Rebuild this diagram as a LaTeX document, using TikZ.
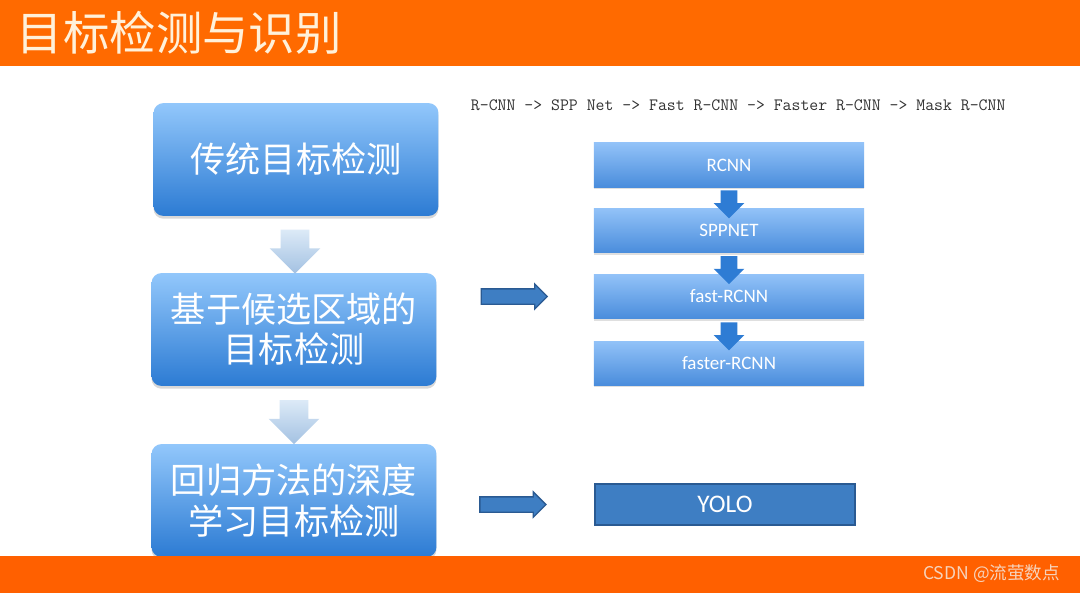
\documentclass[tikz,border=0pt]{standalone}
\usepackage{fontspec}
\newfontfamily\cjk{Noto Sans CJK SC}
\newfontfamily\calib{Carlito}
\usetikzlibrary{shapes.arrows, shadows, calc}

\definecolor{barorange}{HTML}{FF6A00}
\definecolor{barorangeb}{HTML}{FF6000}
\definecolor{titlecream}{HTML}{FFF1DA}
\definecolor{marktext}{HTML}{F6D3BC}
\definecolor{lbtop}{HTML}{92C7FB}
\definecolor{lbbot}{HTML}{2C7BD3}
\definecolor{rbtop}{HTML}{92C2F8}
\definecolor{rbbot}{HTML}{4A8DDC}
\definecolor{yolofill}{HTML}{3E7EC3}
\definecolor{yoloedge}{HTML}{2A5A92}
\definecolor{palearrtop}{HTML}{DCEAF7}
\definecolor{palearrbot}{HTML}{A3C1E2}
\definecolor{darkarr}{HTML}{2E7CD4}

\begin{document}
\begin{tikzpicture}[x=0.025cm, y=-0.025cm,
	leftbox/.style={rounded corners=7pt, top color=lbtop, bottom color=lbbot,
		minimum width=7.12cm, minimum height=2.82cm, text=white, align=center,
		font=\cjk\fontsize{25}{28.5}\selectfont,
		drop shadow={opacity=0.3, shadow xshift=0pt, shadow yshift=-2pt}},
	rightbox/.style={top color=rbtop, bottom color=rbbot, minimum width=6.75cm,
		minimum height=1.1cm, text=white, font=\calib\fontsize{13.5}{16}\selectfont,
		drop shadow={opacity=0.25, shadow xshift=0pt, shadow yshift=-1.5pt}},
	palearrow/.style={single arrow, shape border rotate=270, top color=palearrtop,
		bottom color=palearrbot, minimum height=1.1cm, inner sep=0.35cm,
		single arrow head extend=0.275cm, single arrow head indent=0pt},
	smallarrow/.style={single arrow, shape border rotate=270, fill=darkarr,
		minimum height=0.7cm, inner sep=0.2cm,
		single arrow head extend=0.175cm},
	bluearrow/.style={single arrow, fill=yolofill, draw=yoloedge, line width=0.9pt,
		minimum height=1.65cm, inner sep=0.175cm,
		single arrow head extend=0.125cm}]

	\useasboundingbox (0,0) rectangle (1080,593);
	\fill[white] (0,0) rectangle (1080,593);

	% Colonna di sinistra
	\node[leftbox] (box_trad) at (296,159.5) {传统目标检测};
	\node[leftbox] (box_cand) at (294,329.5) {基于候选区域的\\目标检测};
	\node[leftbox] (box_regr) at (294,500.5) {回归方法的深度\\学习目标检测};

	\node[palearrow] (pa_one) at ($(box_trad.south)!0.5!(box_cand.north)$) {};
	\node[palearrow] (pa_two) at ($(box_cand.south)!0.5!(box_regr.north)$) {};

	% Colonna di destra
	\node[font=\ttfamily\fontsize{12.3}{14}\selectfont, text=black!80, anchor=west]
		(chain) at (466,105) {R-CNN -> SPP Net -> Fast R-CNN -> Faster R-CNN -> Mask R-CNN};

	\node[rightbox] (r_rcnn)   at (729,165)   {RCNN};
	\node[rightbox] (r_spp)    at (729,230.5) {SPPNET};
	\node[rightbox] (r_fast)   at (729,296.5) {fast-RCNN};
	\node[rightbox] (r_faster) at (729,363)   {faster-RCNN};

	\foreach \a/\b in {r_rcnn/r_spp, r_spp/r_fast, r_fast/r_faster} {
		\node[smallarrow, yshift=-0.06cm] at ($(\a.south)!0.5!(\b.north)$) {};
	}

	\node[fill=yolofill, draw=yoloedge, line width=1.4pt, minimum width=6.5cm,
		minimum height=1.02cm, text=white, font=\calib\fontsize{18}{21}\selectfont]
		(r_yolo) at (725,504.5) {YOLO};

	% Frecce orizzontali
	\node[bluearrow] (ba_one) at ($(box_cand.east |- r_fast)!0.47!(r_fast.west)$) {};
	\node[bluearrow] (ba_two) at ($(box_regr.east |- r_yolo)!0.46!(r_yolo.west)$) {};

	% Bande arancioni
	\fill[barorange] (0,0) rectangle (1080,66);
	\fill[barorangeb] (0,556) rectangle (1080,593);
	\node[anchor=west, text=titlecream, font=\cjk\fontsize{33}{36}\selectfont]
		(title) at (12,33) {目标检测与识别};
	\node[anchor=east, text=marktext, font=\cjk\fontsize{12.5}{15}\selectfont]
		(mark) at (1065,574) {CSDN @流萤数点};

\end{tikzpicture}
\end{document}
